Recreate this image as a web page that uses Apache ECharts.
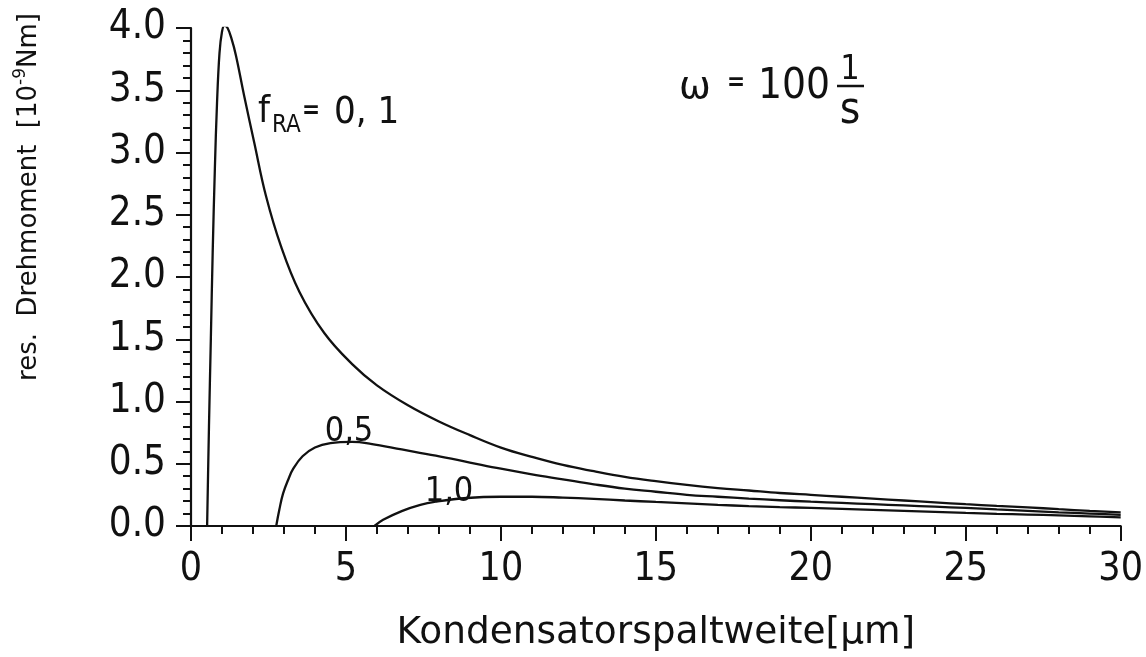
<!DOCTYPE html>
<html>
<head>
<meta charset="utf-8">
<script src="https://cdn.jsdelivr.net/npm/echarts@6/dist/echarts.min.js"></script>
<style>
  html, body { margin: 0; padding: 0; background: #ffffff; }
  #chart { width: 1146px; height: 657px; }
</style>
</head>
<body>
<div id="chart"></div>
<script>
// Gap width (µm) and resulting torque (10^-9 Nm) for three values of f_RA, omega = 100 1/s

// f_RA = 0,1
const gapA = [0.52, 0.58, 0.64, 0.70, 0.77, 0.84, 0.92, 1.00, 1.08, 1.18, 1.30, 1.45, 1.72, 2.04, 2.42, 2.90, 3.50, 4.30, 5.20, 6.00, 7.00, 8.00, 9.00,
              10, 11, 12, 13, 14, 15, 16, 17, 18, 19, 20, 21, 22, 23, 24, 25, 26, 27, 28, 29, 30];
const torqueA = [0.00, 0.80, 1.50, 2.20, 2.87, 3.40, 3.80, 3.97, 4.02, 4.00, 3.92, 3.78, 3.45, 3.08, 2.65, 2.25, 1.88, 1.55, 1.30, 1.13, 0.97, 0.84, 0.73,
                 0.63, 0.555, 0.49, 0.44, 0.395, 0.36, 0.33, 0.305, 0.285, 0.265, 0.25, 0.235, 0.22, 0.205, 0.19, 0.175, 0.162, 0.15, 0.135, 0.122, 0.11];

// f_RA = 0,5
const gapB = [2.75, 2.85, 2.97, 3.15, 3.30, 3.60, 4.00, 4.50, 5.20, 5.80, 6.80, 7.90, 9.00,
              10, 11, 12, 13, 14, 15, 16, 17, 18, 19, 20, 21, 22, 23, 24, 25, 26, 27, 28, 29, 30];
const torqueB = [0.00, 0.13, 0.26, 0.38, 0.46, 0.56, 0.63, 0.665, 0.675, 0.66, 0.615, 0.565, 0.51,
                 0.46, 0.415, 0.375, 0.335, 0.30, 0.275, 0.25, 0.235, 0.22, 0.207, 0.195, 0.185, 0.175, 0.165, 0.155, 0.145, 0.133, 0.122, 0.11, 0.10, 0.09];

// f_RA = 1,0
const gapC = [5.92, 6.20, 6.80, 7.40, 7.90, 8.90,
              10, 11, 12, 13, 14, 15, 16, 17, 18, 19, 20, 21, 22, 23, 24, 25, 26, 27, 28, 29, 30];
const torqueC = [0.00, 0.05, 0.12, 0.17, 0.195, 0.225,
                 0.235, 0.235, 0.228, 0.218, 0.205, 0.193, 0.182, 0.17, 0.16, 0.152, 0.145, 0.138, 0.13, 0.122, 0.114, 0.105, 0.098, 0.092, 0.085, 0.078, 0.07];

// axis ranges and tick steps
const xRange = [0, 30], xStep = 5;
const yRange = [0, 4], yStep = 0.5;

// curve labels
const curveLabels = ['0,1', '0,5', '1,0'];

const INK = '#111111';
const FONT_NUM = '"DejaVu Sans Condensed", "Liberation Sans Narrow", "DejaVu Sans", sans-serif';
const FONT_TEXT = '"DejaVu Sans", sans-serif';

const toPairs = (xs, ys) => xs.map((x, i) => [x, ys[i]]);

function curve(name, xs, ys) {
  return {
    name: name,
    type: 'line',
    data: toPairs(xs, ys),
    showSymbol: false,
    smooth: 0.4,
    clip: true,
    lineStyle: { color: INK, width: 2.3 },
    emphasis: { disabled: true },
    z: 3
  };
}

const axisCommon = {
  type: 'value',
  axisLine: { show: true, onZero: false, lineStyle: { color: INK, width: 2.2 } },
  axisTick: { show: true, length: 15, lineStyle: { color: INK, width: 2 } },
  minorTick: { show: true, splitNumber: 5, length: 8, lineStyle: { color: INK, width: 2 } },
  splitLine: { show: false },
  minorSplitLine: { show: false }
};

// free-standing annotation text, centred vertically on y
function note(text, x, y, font, align) {
  return {
    type: 'text', x: x, y: y, z: 10,
    style: { text: text, fill: INK, font: font, align: align || 'left', verticalAlign: 'middle' }
  };
}

const chart = echarts.init(document.getElementById('chart'), null, { renderer: 'canvas' });

chart.setOption({
  animation: false,
  backgroundColor: '#ffffff',
  grid: { left: 191, right: 24, top: 28, bottom: 124, containLabel: false },
  xAxis: Object.assign({}, axisCommon, {
    min: xRange[0], max: xRange[1], interval: xStep,
    axisLabel: { color: INK, fontFamily: FONT_NUM, fontSize: 39, margin: 24 },
    name: 'Kondensatorspaltweite[μm]',
    nameLocation: 'middle',
    nameGap: 88,
    nameTextStyle: { color: INK, fontFamily: FONT_TEXT, fontSize: 37.5 }
  }),
  yAxis: Object.assign({}, axisCommon, {
    min: yRange[0], max: yRange[1], interval: yStep,
    axisLabel: {
      color: INK, fontFamily: FONT_NUM, fontSize: 40, margin: 25,
      formatter: v => v.toFixed(1)
    }
  }),
  series: [
    curve('f_RA = ' + curveLabels[0], gapA, torqueA),
    curve('f_RA = ' + curveLabels[1], gapB, torqueB),
    curve('f_RA = ' + curveLabels[2], gapC, torqueC)
  ],
  graphic: [
    // y-axis title with superscript exponent
    {
      type: 'text', x: 29, y: 197, rotation: Math.PI / 2,
      style: {
        text: '{n|res.  Drehmoment  [10}{s|-9}{n|Nm]}',
        align: 'center', verticalAlign: 'middle', fill: INK,
        rich: {
          n: { fontFamily: FONT_TEXT, fontSize: 26, lineHeight: 34, fill: INK },
          s: { fontFamily: FONT_TEXT, fontSize: 17, lineHeight: 18, verticalAlign: 'top', fill: INK }
        }
      }
    },
    // f_RA = 0,1
    note('f', 258, 112, '38px ' + FONT_NUM),
    note('RA', 272, 126, '24px ' + FONT_NUM),
    note('=', 311, 112, 'bold 24px ' + FONT_NUM, 'center'),
    note(curveLabels[0].replace(',', ', '), 334, 113, '38px ' + FONT_NUM),
    // f_RA = 0,5 and 1,0
    note(curveLabels[1], 349, 432, '34px ' + FONT_NUM, 'center'),
    note(curveLabels[2], 449, 492, '34px ' + FONT_NUM, 'center'),
    // omega = 100 1/s
    note('ω', 695, 88, '38px ' + FONT_TEXT, 'center'),
    note('=', 736, 84, 'bold 24px ' + FONT_NUM, 'center'),
    note('100', 794, 87, '42px ' + FONT_NUM, 'center'),
    note('1', 850, 70, '34px ' + FONT_NUM, 'center'),
    { type: 'line', z: 10, shape: { x1: 837, y1: 86, x2: 864, y2: 86 }, style: { stroke: INK, lineWidth: 2.5 } },
    note('s', 850, 112, '44px ' + FONT_NUM, 'center')
  ]
});
</script>
</body>
</html>
